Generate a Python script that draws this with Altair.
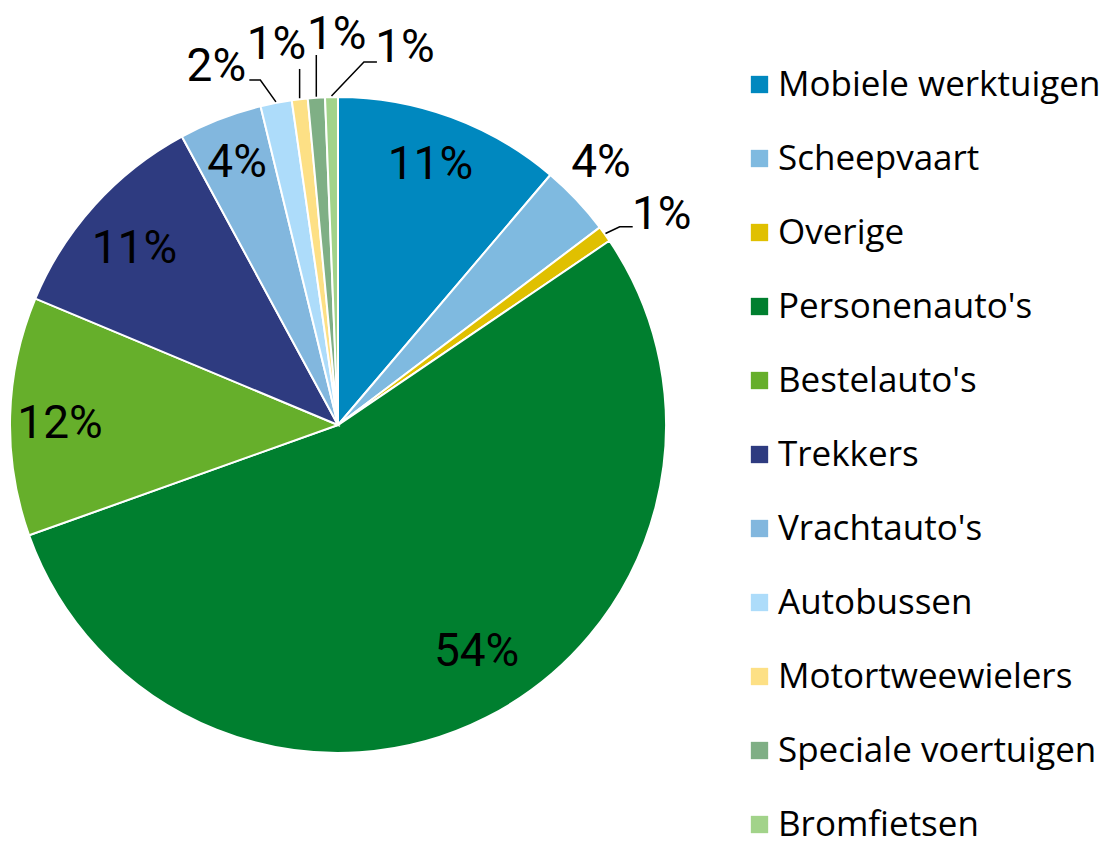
import math
import altair as alt
import pandas as pd

# ---------------- data ----------------
categories = ["Mobiele werktuigen", "Scheepvaart", "Overige", "Personenauto's",
              "Bestelauto's", "Trekkers", "Vrachtauto's", "Autobussen",
              "Motortweewielers", "Speciale voertuigen", "Bromfietsen"]
values = [11.2, 3.5, 0.8, 54.0, 11.75, 10.8, 4.1, 1.54, 0.78, 0.84, 0.63]
labels = ["11%", "4%", "1%", "54%", "12%", "11%", "4%", "2%", "1%", "1%", "1%"]
colors = ["#0088BF", "#7FBAE0", "#E0C000", "#007F2F", "#66AF2B", "#2E3B80",
          "#82B7DE", "#ADDCFA", "#FDE085", "#7FAF85", "#A2D38A"]

# ---------------- layout ----------------
CX, CY, R = 330, 417, 328
W, H = 1098, 836
FONT = "Open Sans"
LABEL_FONT = "Roboto"
# label radius and angular shift (deg) per slice
label_r = [276, 371, 386, 266, 278, 269, 281, 378, 385, 390, 383]
label_shift = [-0.6, -1.5, 2.6, -4.5, -1.4, -1.3, 0, -7.9, -2.5, 3.6, 11.2]
# leader lines: mode, end offset from label (ex, ey), horizontal elbow length
leader = {2: ("elbow", -29, 12, -13),
          7: ("elbow", 33, 13, 11),
          8: ("vert", 0, 24, 0),
          9: ("vert", 0, 20, 0),
          10: ("elbow", -28, 14, -13)}

total = sum(values)
cum = 0.0
rows, lab_rows, line_rows = [], [], []
for i, (c, v, l) in enumerate(zip(categories, values, labels)):
    mid = (cum + v / 2) / total * 2 * math.pi
    cum += v
    rows.append({"cat": c, "value": v, "idx": i})
    a = mid + math.radians(label_shift[i])
    lx = CX + label_r[i] * math.sin(a)
    ly = CY - label_r[i] * math.cos(a)
    lab_rows.append({"lx": lx, "ly": ly, "text": l})
    if i in leader:
        mode, ex, ey, hx = leader[i]
        sx = CX + (R + 1) * math.sin(mid)
        sy = CY - (R + 1) * math.cos(mid)
        if mode == "vert":
            pts = [(sx, sy), (sx, ly + ey)]
        else:
            exx, eyy = lx + ex, ly + ey
            pts = [(sx, sy), (exx + hx, eyy), (exx, eyy)]
        for k, (px, py) in enumerate(pts):
            line_rows.append({"g": i, "k": k, "px": px, "py": py})

df = pd.DataFrame(rows)
df_lab = pd.DataFrame(lab_rows)
df_line = pd.DataFrame(line_rows)

pie = alt.Chart(df).mark_arc(radius=R, stroke="white", strokeWidth=2).encode(
    theta=alt.Theta("value:Q", stack=True),
    order=alt.Order("idx:Q"),
    x=alt.value(CX), y=alt.value(CY),
    color=alt.Color("cat:N", sort=categories,
                    scale=alt.Scale(domain=categories, range=colors),
                    legend=alt.Legend(title=None, orient="none", legendX=734, legendY=59,
                                      symbolType="square", symbolSize=300,
                                      symbolStrokeWidth=0,
                                      labelFont=FONT, labelFontSize=35,
                                      labelColor="#000000", labelLimit=400,
                                      labelOffset=1, rowPadding=38, padding=0)),
)

lines = alt.Chart(df_line).mark_line(color="black", strokeWidth=1.5).encode(
    x=alt.X("px:Q", scale=None, axis=None),
    y=alt.Y("py:Q", scale=None, axis=None),
    detail="g:N", order="k:Q",
)

text = alt.Chart(df_lab).mark_text(font=LABEL_FONT, fontSize=46, color="black",
                                   align="center", baseline="middle").encode(
    x=alt.X("lx:Q", scale=None, axis=None),
    y=alt.Y("ly:Q", scale=None, axis=None),
    text="text:N",
)

chart = alt.layer(pie, lines, text).properties(
    width=W, height=H, padding=0, autosize="none"
).configure_view(stroke=None)

chart.save("out.html", embed_options={"renderer": "svg", "actions": False})
